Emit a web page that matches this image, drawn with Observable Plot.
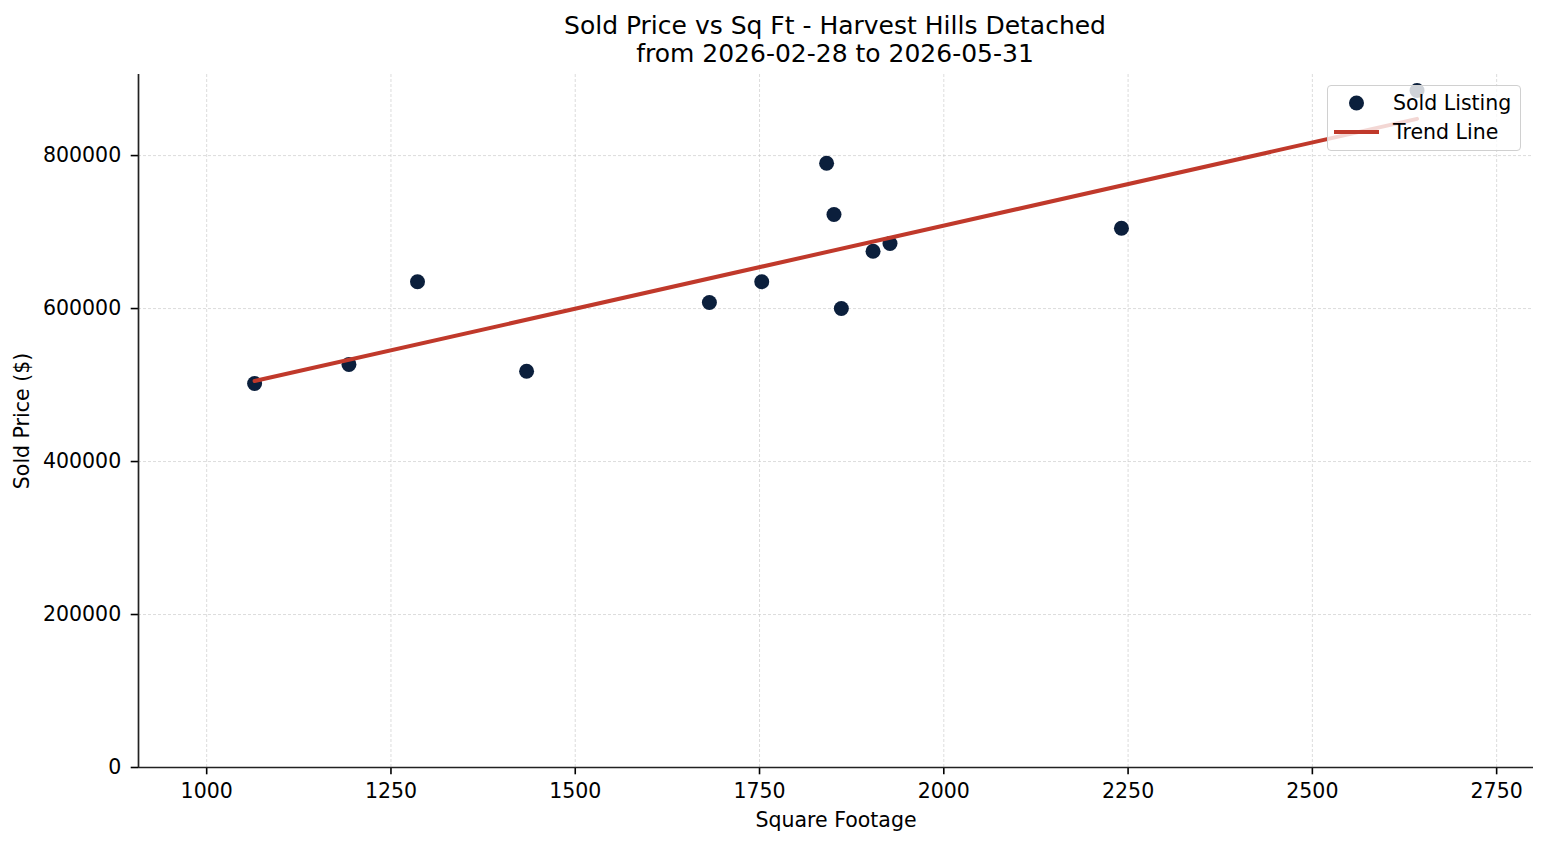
<!DOCTYPE html>
<html>
<head>
<meta charset="utf-8">
<script src="https://cdn.jsdelivr.net/npm/d3@7"></script>
<script src="https://cdn.jsdelivr.net/npm/@observablehq/plot@0.6"></script>
<style>
  html, body { margin: 0; padding: 0; background: #fff; }
  body { width: 1547px; height: 845px; overflow: hidden; font-family: "DejaVu Sans", sans-serif; }
  #title { height: 68px; box-sizing: border-box; padding-top: 12px; width: 1547px; text-align: center;
           font-size: 25px; line-height: 28px; color: #000; }
  #title .inner { position: relative; left: -0.5px; margin-left: 138px; width: 1395px; }
  #wrap { position: relative; width: 1547px; height: 777px; }
  #legend { position: absolute; left: 1327px; top: 17px; width: 194px; height: 66px; box-sizing: border-box;
            background: rgba(255,255,255,0.8); border: 1.3px solid #d0d0d0; border-radius: 4px;
            font-size: 20.5px; color: #000; }
  #legend .row { position: absolute; left: 0; height: 28px; display: flex; align-items: center; }
  #legend svg { display: block; }
</style>
</head>
<body>
<div id="title"><div class="inner">Sold Price vs Sq Ft - Harvest Hills Detached<br>from 2026-02-28 to 2026-05-31</div></div>
<div id="wrap"></div>
<script>
// Data
const sqft  = [1065, 1193, 1286, 1434, 1682, 1753, 1841, 1851, 1861, 1904, 1927, 2241, 2642];
const price = [502000, 527000, 635000, 518000, 608000, 635000, 790000, 723000, 600000, 675000, 685000, 705000, 885000];
const xTicks = [1000, 1250, 1500, 1750, 2000, 2250, 2500, 2750];
const yTicks = [0, 200000, 400000, 600000, 800000];
const seriesNames = ["Sold Listing", "Trend Line"];
const pointColor = "#0b1f3c";
const lineColor = "#c0392b";

const data = sqft.map((s, i) => ({sqft: s, price: price[i]}));
const gridStyle = {stroke: "#c8c8c8", strokeOpacity: 0.8, strokeWidth: 0.8, strokeDasharray: "3,2"};

const chart = Plot.plot({
  width: 1547,
  height: 777,
  marginTop: 6,
  marginBottom: 78,
  marginLeft: 138,
  marginRight: 14,
  style: {fontFamily: "DejaVu Sans, sans-serif", fontSize: "20.5px", color: "#000", background: "#fff"},
  x: {domain: [907.5, 2800]},
  y: {domain: [0, 906000]},
  marks: [
    Plot.gridX(xTicks, gridStyle),
    Plot.gridY(yTicks.filter(d => d > 0), gridStyle),
    Plot.axisX({ticks: xTicks, tickSize: 7.3, tickPadding: 8.5, tickFormat: d => String(d), label: null, strokeWidth: 1.6}),
    Plot.axisY({ticks: yTicks, tickSize: 7.3, tickPadding: 10, tickFormat: d => String(d), label: null, strokeWidth: 1.6}),
    Plot.ruleX([907.5], {stroke: "#222", strokeWidth: 1.7}),
    Plot.ruleY([0], {stroke: "#222", strokeWidth: 1.7}),
    Plot.dot(data, {x: "sqft", y: "price", r: 7.5, fill: pointColor, stroke: null}),
    Plot.linearRegressionY(data, {x: "sqft", y: "price", stroke: lineColor, strokeWidth: 4, ci: 0}),
    Plot.text(["Square Footage"], {frameAnchor: "bottom", dy: 59, text: d => d, fontSize: 20.5, fill: "#000"}),
    Plot.text(["Sold Price ($)"], {frameAnchor: "left", textAnchor: "middle", dx: -116, rotate: -90, text: d => d, fontSize: 20.5, fill: "#000"})
  ]
});
document.getElementById("wrap").appendChild(chart);

// Legend (matplotlib-style box in the upper right of the axes)
const legend = document.createElement("div");
legend.id = "legend";
const r1 = document.createElement("div");
r1.className = "row"; r1.style.top = "3px";
r1.innerHTML = `<svg width="60" height="28"><circle cx="28.5" cy="14" r="7.5" fill="${pointColor}"/></svg><span style="margin-left:5px">${seriesNames[0]}</span>`;
const r2 = document.createElement("div");
r2.className = "row"; r2.style.top = "32px";
r2.innerHTML = `<svg width="60" height="28"><line x1="6" x2="51" y1="14" y2="14" stroke="${lineColor}" stroke-width="4"/></svg><span style="margin-left:5px">${seriesNames[1]}</span>`;
legend.appendChild(r1); legend.appendChild(r2);
document.getElementById("wrap").appendChild(legend);
</script>
</body>
</html>
